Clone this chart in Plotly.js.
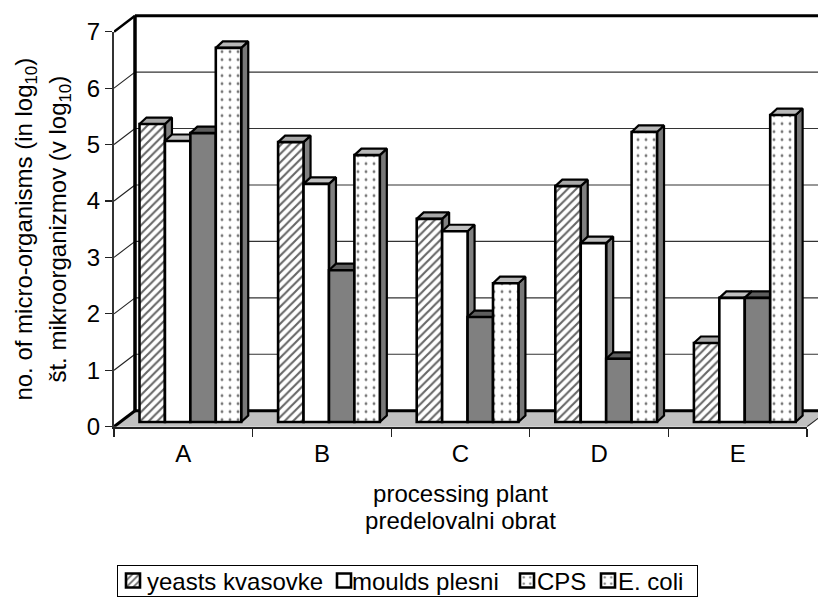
<!DOCTYPE html>
<html><head><meta charset="utf-8">
<script src="https://cdn.plot.ly/plotly-3.0.1.min.js"></script>
<style>html,body{margin:0;padding:0;background:#fff}</style>
</head><body><div id="chart" style="width:818px;height:597px"></div>
<script>
const categories = ['A','B','C','D','E'];
const yeasts  = [5.28,4.96,3.60,4.18,1.40];
const moulds  = [4.98,4.22,3.38,3.17,2.20];
const cps     = [5.12,2.69,1.86,1.12,2.20];
const ecoli   = [6.63,4.73,2.46,5.14,5.44];
const seriesNames = ['yeasts kvasovke','moulds plesni','CPS','E. coli'];
const yTicks = [0,1,2,3,4,5,6,7];

const W=818,H=597, X0=114, X1=807, Y0=426.7, Y7=31.7;
const ux=(X1-X0)/5, uy=(Y0-Y7)/7;
const px=p=>p/ux, py=p=>p/uy;
const wallDx=px(21), wallDy=py(16), barDx=px(7), barDy=py(6.5);
const liftY=py(4.7);
const barStart=-0.5+0.184, barW=0.1835;
const xLo=-0.5,xHi=4.5,xEnd=xLo+(W-X0)/ux,yEnd=Y0/uy;
const ink='#000';

const traces=[];
function poly(xs,ys,fill,lw,lc){
  traces.push({type:'scatter',mode:'lines',x:xs,y:ys,xaxis:'x',yaxis:'y',fill:fill?'toself':'none',
    fillcolor:fill||'rgba(0,0,0,0)',line:{color:lc||ink,width:lw,simplify:false},hoverinfo:'skip',showlegend:false});
}
const rightRise=(xEnd-xHi)*wallDy/wallDx;
// floor
poly([xLo,xLo+wallDx,xEnd,xEnd,xHi,xLo],[0,wallDy,wallDy,rightRise,0,0],'#c0c0c0',0.5,'#c0c0c0');
// back wall grid
yTicks.slice(1,7).forEach(v=>{ poly([xLo+wallDx,xEnd],[v+wallDy,v+wallDy],null,1.1,'#333'); });
poly([xLo+wallDx,xEnd],[7+wallDy,7+wallDy],null,3);
// wall diagonals
yTicks.slice(1,7).forEach(v=>{ poly([xLo,xLo+wallDx],[v,v+wallDy],null,1.1,'#222'); });
poly([xLo,xLo+wallDx],[7,7+wallDy],null,2.5);
poly([xLo,xLo+wallDx],[0,wallDy],null,3);
poly([xLo+wallDx,xEnd],[wallDy,wallDy],null,3);
poly([xLo+wallDx,xLo+wallDx],[wallDy,7+wallDy],null,3.5);
poly([xHi,xEnd],[0,rightRise],null,1.1,'#222');

// bar tops and sides
const seriesVals=[yeasts,moulds,cps,ecoli];
const topCol=['#a8a8a8','#c0c0c0','#5e5e5e','#b8b8b8'];
const sideCol=['#808080','#808080','#4a4a4a','#787878'];
categories.forEach((c,ci)=>{
  seriesVals.forEach((vals,si)=>{
    const l=ci+barStart+si*barW, r=l+barW, t=vals[ci]+liftY, b=liftY;
    poly([r,r+barDx,r+barDx,r,r],[t,t+barDy,b+barDy,b,t],sideCol[si],2.2);
    poly([l,l+barDx,r+barDx,r,l],[t,t+barDy,t+barDy,t,t],topCol[si],2.2);
  });
});

// front faces
const barMarkers=[
 {color:'#fff',line:{color:ink,width:2.6},pattern:{shape:'/',fgcolor:'#666',bgcolor:'#fff',size:6,solidity:0.35}},
 {color:'#fff',line:{color:ink,width:2.6}},
 {color:'#808080',line:{color:ink,width:2.6}},
 {color:'#fff',line:{color:ink,width:2.6},pattern:{shape:'.',fgcolor:'#777',bgcolor:'#fff',size:8,solidity:0.1}}
];
seriesVals.forEach((vals,si)=>{
  traces.push({type:'bar',name:seriesNames[si],x:categories,y:vals,base:liftY,xaxis:'x2',yaxis:'y2',
    width:barW,offset:barStart+si*barW,marker:barMarkers[si],hoverinfo:'x+y',showlegend:true});
});

const fs=24;
const font={family:'"Liberation Sans",Arial,sans-serif',size:fs,color:'#000'};
const layout={width:W,height:H,margin:{l:0,r:0,t:0,b:0,autoexpand:false},paper_bgcolor:'#fff',plot_bgcolor:'rgba(0,0,0,0)',font:font,
 showlegend:true,barmode:'overlay',
 xaxis:{domain:[X0/W,1],range:[xLo,xEnd],visible:false,fixedrange:true},
 yaxis:{domain:[(H-Y0)/H,1],range:[0,yEnd],visible:false,fixedrange:true},
 xaxis2:{domain:[X0/W,X1/W],anchor:'y2',type:'category',categoryorder:'array',categoryarray:categories,
   range:[xLo,xHi],tickson:'boundaries',ticks:'outside',ticklen:8,tickcolor:'#222',tickwidth:1.2,showline:true,linecolor:'#222',linewidth:2,ticklabelstandoff:4,
   showgrid:false,tickfont:{size:fs},title:{text:'processing plant<br>predelovalni obrat',font:{size:fs}}},
 yaxis2:{domain:[(H-Y0)/H,(H-Y7)/H],anchor:'x2',range:[0,7],tickmode:'array',tickvals:yTicks,ticktext:yTicks.map(String),
   ticks:'outside',ticklen:7,tickcolor:'#222',tickwidth:1.2,showline:true,linecolor:'#333',linewidth:2,showgrid:false,zeroline:false,
   tickfont:{size:fs},title:{text:'no. of micro-organisms (in log<sub>10</sub>)<br>št. mikroorganizmov (v log<sub>10</sub>)',font:{size:fs}}},
 legend:{orientation:'h',x:117/W,xanchor:'left',y:(H-565)/H,yanchor:'top',bgcolor:'#fff',bordercolor:'#000',borderwidth:1.2,font:{size:fs},traceorder:'normal'}
};
// legend entry placement, relative to the legend box
const legendBox={w:580,h:31};
const swatchCentre=[16,227,410,491];
const textStart=[30,235,420,501];
Plotly.newPlot('chart',traces,layout,{displayModeBar:false,staticPlot:true}).then(gd=>{
  const bg=gd.querySelector('.legend .bg');
  if(bg){bg.setAttribute('width',legendBox.w);bg.setAttribute('height',legendBox.h);}
  const items=[...gd.querySelectorAll('.legend .traces')];
  const sw=items.map(t=>t.querySelector('.legendpoints path'));
  items.forEach((t,i)=>{
    t.setAttribute('transform','translate(0,'+(legendBox.h/2)+')');
    if(sw[i]){sw[i].setAttribute('d','M7,7H-7V-7H7Z');sw[i].setAttribute('transform','translate('+swatchCentre[i]+',0)');}
    const tx=t.querySelector('.legendtext');
    if(tx){tx.setAttribute('x',textStart[i]);tx.querySelectorAll('tspan').forEach(s=>{if(s.getAttribute('x'))s.setAttribute('x',textStart[i]);});}
  });
  if(sw[2]&&sw[3]) sw[2].style.fill=sw[3].style.fill;
  // axis-title nudges: spacing between the two lines and offset from the axis
  const xt=gd.querySelector('.g-x2title'), yt=gd.querySelector('.g-y2title');
  if(xt){xt.setAttribute('transform','translate(0,-8)');
    const l=xt.querySelectorAll('tspan.line'); if(l[1]) l[1].setAttribute('dy','27');}
  if(yt){yt.setAttribute('transform','translate(-23,0)');
    const l=yt.querySelectorAll('tspan.line'); if(l[1]) l[1].setAttribute('dy','34');}
});
</script></body></html>
